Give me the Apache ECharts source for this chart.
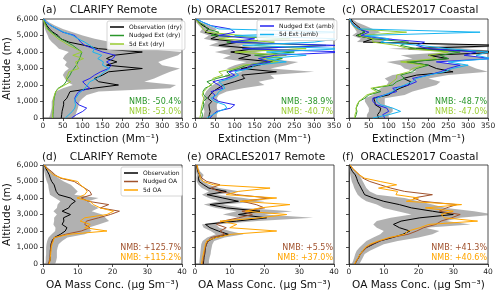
<!DOCTYPE html>
<html><head><meta charset="utf-8">
<script src="https://cdn.jsdelivr.net/npm/echarts@6/dist/echarts.min.js"></script>
<style>html,body{margin:0;padding:0;background:#fff}#c{width:500px;height:297px}</style>
</head><body><div id="c"></div>
<script>
// Altitude levels (m)
const ALT = [0,200,400,600,800,1000,1200,1400,1600,1800,2000,2200,2400,2600,2800,3000,3200,3400,3600,3800,4000,4200,4400,4600,4800,5000,5200,5400,5600,5800,6000];
// Panel a: CLARIFY Remote extinction (Mm-1)
const A_obs  = [46,47,48,50,52,52,60,64,68,125,190,140,130,150,165,250,160,186,160,178,250,140,105,65,45,38,25,16,10,5,2];
const A_lo   = [15,18,20,22,22,22,25,28,32,50,75,60,55,50,55,65,55,60,50,55,65,40,32,22,15,12,8,5,3,1,0];
const A_hi   = [78,82,85,88,90,92,100,110,140,320,335,255,280,300,320,345,300,290,315,340,350,250,230,170,130,100,75,50,30,15,5];
const A_nud  = [25,25,26,26,27,27,28,30,32,38,52,58,62,68,72,78,84,88,92,95,98,86,75,60,45,33,22,12,8,4,1];
const A_5d   = [24,24,25,25,26,26,27,29,32,40,55,70,58,62,65,90,85,82,102,75,98,82,65,52,38,28,18,10,6,3,1];
const A_nudA = [72,84,100,110,90,82,80,84,90,118,108,100,118,130,145,165,172,160,176,182,150,128,105,95,88,80,50,35,20,8,2];
const A_5dA  = [56,65,74,80,82,80,82,88,95,105,112,118,135,145,155,168,150,152,138,148,125,130,118,105,88,75,52,35,20,8,2];
// Panel b: ORACLES2017 Remote extinction
const B_obs  = [34,36,38,36,35,42,32,38,45,58,72,100,125,118,205,117,160,195,110,140,90,150,60,110,40,60,25,35,20,8,3];
const B_lo   = [20,22,24,22,22,26,20,24,28,35,45,60,80,75,120,80,100,130,70,90,50,90,35,60,22,35,12,18,10,3,0];
const B_hi   = [55,55,58,55,55,60,55,60,80,120,175,160,200,190,300,190,230,260,180,210,150,210,110,170,70,90,45,55,35,15,6];
const B_nud  = [17,19,16,20,22,21,30,22,20,25,42,30,55,88,80,110,130,180,220,150,250,120,330,80,240,40,60,30,25,10,2];
const B_5d   = [12,14,15,16,18,20,22,18,22,30,38,50,45,70,60,100,120,210,160,230,100,280,150,200,60,120,30,20,15,8,2];
const B_nudA = [38,45,55,90,100,60,45,50,40,70,60,45,80,100,85,130,140,190,160,200,380,120,360,90,150,60,100,88,40,20,3];
const B_5dA  = [30,45,60,80,75,50,40,55,60,75,70,60,90,110,100,140,150,230,180,280,180,380,120,300,360,100,380,60,40,20,5];
// Panel c: ORACLES2017 Coastal extinction
const C_obs  = [74,72,78,80,66,65,62,100,112,128,150,155,137,170,262,220,200,145,250,200,400,150,400,36,60,19,40,30,20,10,5];
const C_lo   = [45,45,50,50,45,40,40,60,70,80,95,100,90,110,170,140,130,95,160,130,250,100,250,20,30,8,20,15,8,3,0];
const C_hi   = [100,100,110,110,90,90,90,140,160,190,220,230,200,250,350,320,300,220,350,300,420,280,420,80,110,50,80,60,40,20,8];
const C_nud  = [15,18,20,18,22,25,40,50,80,60,110,120,140,130,160,170,200,150,250,230,280,170,130,150,60,20,40,25,12,6,2];
const C_5d   = [15,15,18,18,20,25,35,45,70,55,100,110,120,120,150,160,190,130,220,200,250,150,120,60,60,25,145,20,10,5,2];
const C_nudA = [90,85,100,95,70,60,60,90,120,110,150,170,160,200,230,250,280,220,360,290,320,200,170,190,90,30,50,25,12,6,2];
const C_5dA  = [60,100,130,110,80,70,70,90,110,120,140,160,170,200,240,260,300,250,360,320,350,250,180,80,100,40,330,25,12,6,2];
// Panel d: CLARIFY Remote OA (ug Sm-3)
const D_obs = [1.6,2.0,2.1,2.1,2.1,2.2,2.3,2.6,3.2,5.0,6.4,6.9,5.5,6.0,5.9,7.9,5.5,7.4,8.0,9.3,7.9,4.5,3.8,3.5,3.2,2.5,2.1,1.8,1.3,0.8,0.4];
const D_lo  = [0.7,0.8,0.8,0.9,0.9,0.9,1.0,1.2,1.6,2.5,3.5,3.6,3.0,3.2,3.2,4.0,3.0,4.0,4.2,5.0,3.5,2.0,1.8,1.6,1.5,1.1,0.8,0.6,0.4,0.2,0];
const D_hi  = [3.5,3.8,4.0,4.0,4.0,4.2,4.5,5.5,7.0,12,14,13,16,19,18,17,14,16,14,13,16,9,10,9,8,6,4.5,3.5,2.5,1.5,0.6];
const D_nud = [1.5,1.8,2.0,2.1,2.2,2.2,2.4,2.7,3.3,6.5,11,13.5,12,12.5,16,19.4,22,16.5,18.9,13,11,14,13.5,12,10.5,9,5,3.5,2.5,1.2,0.4];
const D_5d  = [1.8,2.0,2.1,2.2,2.3,2.4,2.6,3.0,3.2,7.5,18.4,12,13.6,10.7,12,18.4,20.3,16.5,14.5,13.6,9.8,12,12.7,12,10.7,10,5.5,3,2,1,0.4];
// Panel e: ORACLES2017 Remote OA
const E_obs = [2.4,2.5,2.6,2.8,2.9,3.0,3.3,3.8,5.8,9.6,6.7,4.3,3.0,12,20.6,12.5,18.7,9.1,4.3,12.5,8.0,3.5,9.0,4.0,2.5,1.2,1.0,1.3,0.8,0.6,0.5];
const E_lo  = [1.2,1.3,1.4,1.5,1.6,1.7,1.8,2.2,3.5,6,4.5,2.5,2.0,8,13,8,12,6,2.5,7,4,2,4,2,1,0.5,0.4,0.5,0.3,0.2,0];
const E_hi  = [4.0,4.0,4.2,4.5,4.6,4.8,5.0,5.5,8.5,14,10,7,6,18,34,20,28,14,8,20,14,6,13,7,4,2.5,2,2.5,1.5,1,0.8];
const E_nud = [2.2,2.3,2.5,2.7,2.8,3.0,3.3,3.8,4.5,8.5,7.2,9.0,6.2,8.0,12.5,16.5,13.5,20.0,17.6,13.5,21.5,12,7,4.5,7.2,3.4,2,1.4,1,0.7,0.5];
const E_5d  = [1.9,2.0,2.2,2.4,2.6,2.8,3.0,3.4,6.0,10.5,23.5,10,12,7.2,18.7,26.4,14.5,18.7,27.3,13,23.5,9,12.5,21.6,5.3,2.4,1.5,1.4,1.0,0.8,0.6];
// Panel f: ORACLES2017 Coastal OA
const F_obs = [1.7,2.2,2.8,3.2,4.0,5.1,7,9,12.5,15.5,17.5,14.5,12.8,15,20.4,30,24,18,14.5,10,7,4.5,4.0,3.5,3.0,2.5,2.2,1.8,1.0,0.5,0.2];
const F_lo  = [0.8,1.2,1.5,1.8,2.2,3.0,4,5,7,9,10,8,7,8,12,18,14,10,8,5,3.5,2.5,2.0,1.5,1.2,0.8,0.6,0.4,0.2,0.1,0];
const F_hi  = [3.0,3.5,4.0,4.5,6.0,8,10,14,20,24,26,22,35,28,32,42,36,28,24,20,16,8,6,5,4.5,4.0,3.5,3.0,2.0,1.0,0.4];
const F_nud = [1.7,2.2,2.8,3.3,4.2,5.0,6.6,9,12,17,19.5,21.5,25,26.5,29.5,32,26,28,31,21,18.5,24,16,12,9,6,4,3,2,1,0.3];
const F_5d  = [1.6,2.1,2.7,3.2,4.0,4.6,6.0,8.5,11.5,16,17,20.4,23,37,27.5,26.5,30,22,32.4,16.5,20,13.5,14,8.5,13.7,9,4.5,3,2,1,0.3];

const TITLES = ['CLARIFY Remote','ORACLES2017 Remote','ORACLES2017 Coastal','CLARIFY Remote','ORACLES2017 Remote','ORACLES2017 Coastal'];
const TAGS = ['(a)','(b)','(c)','(d)','(e)','(f)'];
const NMB_TOP = [['NMB: -50.4%','NMB: -53.0%'],['NMB: -38.9%','NMB: -40.7%'],['NMB: -48.7%','NMB: -47.0%']];
const NMB_BOT = [['NMB: +125.7%','NMB: +115.2%'],['NMB: +5.5%','NMB: +37.0%'],['NMB: +41.3%','NMB: +40.6%']];
const EXT_TICKS = {min:0, max:350, interval:50};
const OA_TICKS = {min:0, max:40, interval:10};
const ALT_TICKS = {min:0, max:6000, interval:1000};

const FONT = 'DejaVu Sans';
const COL = {obs:'#000000', nud:'#2a962a', d5:'#9acd32', nudA:'#2525f0', d5A:'#18b4f0', brown:'#a0522d', orange:'#ffa500', band:'rgba(120,120,120,0.58)'};
const LEFTS = [43,195,349], W = 139, TOPS = [19,165], H = 99;

const grids=[], xAxes=[], yAxes=[], series=[], graphics=[];
function band(k, lo, hi){
  const pts = ALT.map((a,i)=>[lo[i],a]).concat(ALT.map((a,i)=>[hi[i],a]).reverse());
  series.push({type:'custom', xAxisIndex:k, yAxisIndex:k, data:[[0,0]], silent:true, z:1, clip:true,
    renderItem:(p,api)=>({type:'polygon', shape:{points:pts.map(q=>api.coord(q))}, style:{fill:COL.band}})});
}
function line(k, name, vals, color, z){
  series.push({type:'line', name, xAxisIndex:k, yAxisIndex:k, data:ALT.map((a,i)=>[vals[i],a]),
    symbol:'none', showSymbol:false, clip:true, z:z||3, lineStyle:{width:1, color}, itemStyle:{color}});
}
for(let k=0;k<6;k++){
  const row = k<3?0:1, col = k%3;
  grids.push({left:LEFTS[col], top:TOPS[row], width:W, height:H, show:true, borderColor:'#222', borderWidth:0.8, backgroundColor:'transparent'});
  const t = row===0?EXT_TICKS:OA_TICKS;
  xAxes.push({type:'value', gridIndex:k, min:t.min, max:t.max, interval:t.interval,
    name: row===0?'Extinction (Mm⁻¹)':'OA Mass Conc. (μg Sm⁻³)', nameLocation:'middle', nameGap:16,
    nameTextStyle:{fontFamily:FONT, fontSize:10.5, color:'#111'},
    axisLine:{show:true, lineStyle:{color:'#222', width:0.8}}, axisTick:{show:true, length:3, lineStyle:{color:'#222', width:0.8}},
    axisLabel:{fontFamily:FONT, fontSize:7.5, color:'#222', margin:4, showMaxLabel:true, showMinLabel:true}, splitLine:{show:false}});
  yAxes.push({type:'value', gridIndex:k, min:ALT_TICKS.min, max:ALT_TICKS.max, interval:ALT_TICKS.interval,
    name: col===0?'Altitude (m)':'', nameLocation:'middle', nameGap:25,
    nameTextStyle:{fontFamily:FONT, fontSize:10.5, color:'#111'},
    axisLine:{show:true, lineStyle:{color:'#222', width:0.8}}, axisTick:{show:true, length:3, lineStyle:{color:'#222', width:0.8}},
    axisLabel:{show:col===0, fontFamily:FONT, fontSize:7.5, color:'#222', margin:5}, splitLine:{show:false}});
  const cx = LEFTS[col]+W/2, ty = row===0?10.5:157;
  const tagX = [42,187,342][col];
  graphics.push({type:'text', x:tagX, y:ty, style:{text:TAGS[k], fontFamily:FONT, fontSize:10.5, fill:'#111', align:'left', verticalAlign:'middle'}});
  graphics.push({type:'text', x:cx+1, y:ty, style:{text:TITLES[k], fontFamily:FONT, fontSize:10.5, fill:'#111', align:'center', verticalAlign:'middle'}});
  const rx = LEFTS[col]+W-1, y0 = TOPS[row]+H-16, y1 = TOPS[row]+H-6.5;
  const nm = row===0?NMB_TOP[col]:NMB_BOT[col];
  const c0 = row===0?COL.nud:COL.brown, c1 = row===0?COL.d5:COL.orange;
  graphics.push({type:'text', x:rx, y:y0, z:10, style:{text:nm[0], fontFamily:FONT, fontSize:8, fill:c0, align:'right', verticalAlign:'middle'}});
  graphics.push({type:'text', x:rx, y:y1, z:10, style:{text:nm[1], fontFamily:FONT, fontSize:8, fill:c1, align:'right', verticalAlign:'middle'}});
}
const TOPDATA = [[A_obs,A_lo,A_hi,A_nud,A_5d,A_nudA,A_5dA],[B_obs,B_lo,B_hi,B_nud,B_5d,B_nudA,B_5dA],[C_obs,C_lo,C_hi,C_nud,C_5d,C_nudA,C_5dA]];
TOPDATA.forEach((d,k)=>{
  band(k,d[1],d[2]);
  line(k,'Observation (dry)',d[0],COL.obs,3);
  line(k,'Nudged Ext (dry)',d[3],COL.nud,4);
  line(k,'5d Ext (dry)',d[4],COL.d5,5);
  line(k,'Nudged Ext (amb)',d[5],COL.nudA,6);
  line(k,'5d Ext (amb)',d[6],COL.d5A,7);
});
const BOTDATA = [[D_obs,D_lo,D_hi,D_nud,D_5d],[E_obs,E_lo,E_hi,E_nud,E_5d],[F_obs,F_lo,F_hi,F_nud,F_5d]];
BOTDATA.forEach((d,j)=>{
  const k=j+3;
  band(k,d[1],d[2]);
  line(k,'Observation',d[0],COL.obs,3);
  line(k,'Nudged OA',d[3],COL.brown,4);
  line(k,'5d OA',d[4],COL.orange,5);
});
const legBase = {orient:'vertical', itemWidth:14, itemHeight:1.5, icon:'rect', itemGap:2.5, padding:[3,3,3,3],
  backgroundColor:'rgba(255,255,255,0.85)', borderColor:'#ccc', borderWidth:0.8, borderRadius:2, selectedMode:false,
  textStyle:{fontFamily:FONT, fontSize:6, color:'#111'}, z:20};
const chart = echarts.init(document.getElementById('c'), null, {renderer:'canvas'});
chart.setOption({
  animation:false, backgroundColor:'#fff',
  grid:grids, xAxis:xAxes, yAxis:yAxes, series,
  legend:[
    Object.assign({}, legBase, {left:107, top:21, data:['Observation (dry)','Nudged Ext (dry)','5d Ext (dry)']}),
    Object.assign({}, legBase, {left:257, top:20, data:['Nudged Ext (amb)','5d Ext (amb)']}),
    Object.assign({}, legBase, {left:121, top:167, data:['Observation','Nudged OA','5d OA']})
  ],
  graphic:graphics
});
</script></body></html>
